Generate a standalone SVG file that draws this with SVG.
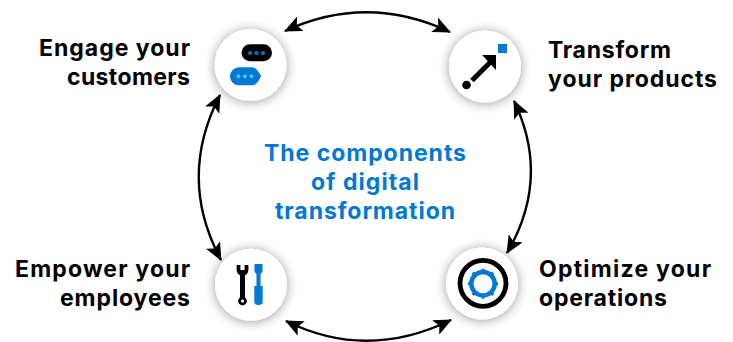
<svg xmlns="http://www.w3.org/2000/svg" width="733" height="342" viewBox="0 0 733 342">
<style>
.l{font-family:Inter,"Open Sans",sans-serif;font-weight:700;font-size:23px;fill:#000}
.c{font-family:Inter,"Open Sans",sans-serif;font-weight:700;font-size:23px;fill:#0078d4;text-anchor:middle}
.e{text-anchor:end}
.a{fill:none;stroke:#000;stroke-width:2.4;marker-start:url(#h);marker-end:url(#h)}
.n{fill:#fff;filter:url(#s)}
.k{fill:#000}.b{fill:#0078d4}.w{fill:#50c0f5}
</style>
<defs>
<marker id="h" viewBox="0 0 18 16" refX="17" refY="8" markerWidth="18" markerHeight="16" markerUnits="userSpaceOnUse" orient="auto-start-reverse"><path d="M0 0L18 8L0 16L4 8Z" fill="#000"/></marker>
<filter id="s" x="-50%" y="-50%" width="200%" height="200%"><feGaussianBlur in="SourceAlpha" stdDeviation="6"/><feOffset dy="1"/><feComponentTransfer><feFuncA type="linear" slope=".4"/></feComponentTransfer><feMerge><feMergeNode/><feMergeNode in="SourceGraphic"/></feMerge></filter>
</defs>
<rect width="733" height="342" fill="#fff"/>
<g id="connectors">
<path class="a" d="M285 31Q367 -7 450 32"/>
<path class="a" d="M220 95Q177 178 221 260"/>
<path class="a" d="M514 101Q551 178 507 253"/>
<path class="a" d="M286 321Q367 361 451 320"/>
</g>
<g id="node-engage">
<circle class="n" cx="250.500" cy="65" r="36"/>
<rect class="k" x="241.500" y="44.300" width="30.500" height="17" rx="8.500"/>
<circle class="b" cx="250" cy="53" r="2"/><circle class="b" cx="256.500" cy="53" r="2"/><circle class="b" cx="263" cy="53" r="2"/>
<path class="b" d="M239 67.300H252Q257 67.300 261 76.300Q257 85.300 252 85.300H239A9 9 0 0 1 239 67.300Z"/>
<circle class="w" cx="238.500" cy="76.300" r="2"/><circle class="w" cx="245" cy="76.300" r="2"/><circle class="w" cx="251.500" cy="76.300" r="2"/>
<text class="l e" x="190" y="56" textLength="151">Engage your</text>
<text class="l e" x="190" y="85" textLength="123">customers</text>
</g>
<g id="node-transform">
<circle class="n" cx="485" cy="66.500" r="36"/>
<rect class="b" x="498" y="44" width="9" height="9"/>
<circle class="k" cx="466.500" cy="85" r="4.300"/>
<path d="M472 80.500L491 61.500" stroke="#000" stroke-width="5" fill="none"/>
<path class="k" d="M482 55H496V70Z"/>
<text class="l" x="548" y="58" textLength="123">Transform</text>
<text class="l" x="548" y="87" textLength="169">your products</text>
</g>
<g id="node-empower">
<circle class="n" cx="251" cy="284.700" r="36"/>
<path d="M242.500 270V300" stroke="#000" stroke-width="5"/>
<path d="M238.500 265V270A4 4 0 0 0 246.500 270V265" fill="none" stroke="#000" stroke-width="3.800"/>
<circle cx="242.500" cy="301" r="3" fill="#fff" stroke="#000" stroke-width="2.800"/>
<path class="b" d="M254.500 264H262.500V272L260.500 274V286H262.700V302Q262.700 305 258.500 305Q254.300 305 254.300 302V286H256.500V274L254.500 272Z"/>
<text class="l e" x="190" y="277" textLength="175">Empower your</text>
<text class="l e" x="190" y="306" textLength="130">employees</text>
</g>
<g id="node-optimize">
<circle class="n" cx="482" cy="283.500" r="36"/>
<circle cx="483" cy="283.300" r="23" fill="none" stroke="#000" stroke-width="4.800"/>
<circle cx="483" cy="283.700" r="11.700" fill="none" stroke="#0078d4" stroke-width="4.400"/>
<path class="b" d="M481.500 268.700h3v4h-3zM481.500 294.700h3v4h-3zM468 282.200h4v3h-4zM494 282.200h4v3h-4zM471.500 273.700l2.300-2.300 3 3-2.300 2.300zM489 274.400l3-3 2.300 2.300-3 3zM471.500 293.700l3-3 2.300 2.300-3 3zM489 293l2.300-2.300 3 3-2.300 2.300z"/>
<text class="l" x="539" y="277" textLength="172">Optimize your</text>
<text class="l" x="539" y="306" textLength="128">operations</text>
</g>
<g id="title">
<text class="c" x="365" y="161" textLength="202">The components</text>
<text class="c" x="365" y="190" textLength="108">of digital</text>
<text class="c" x="365" y="219" textLength="180">transformation</text>
</g>
</svg>
